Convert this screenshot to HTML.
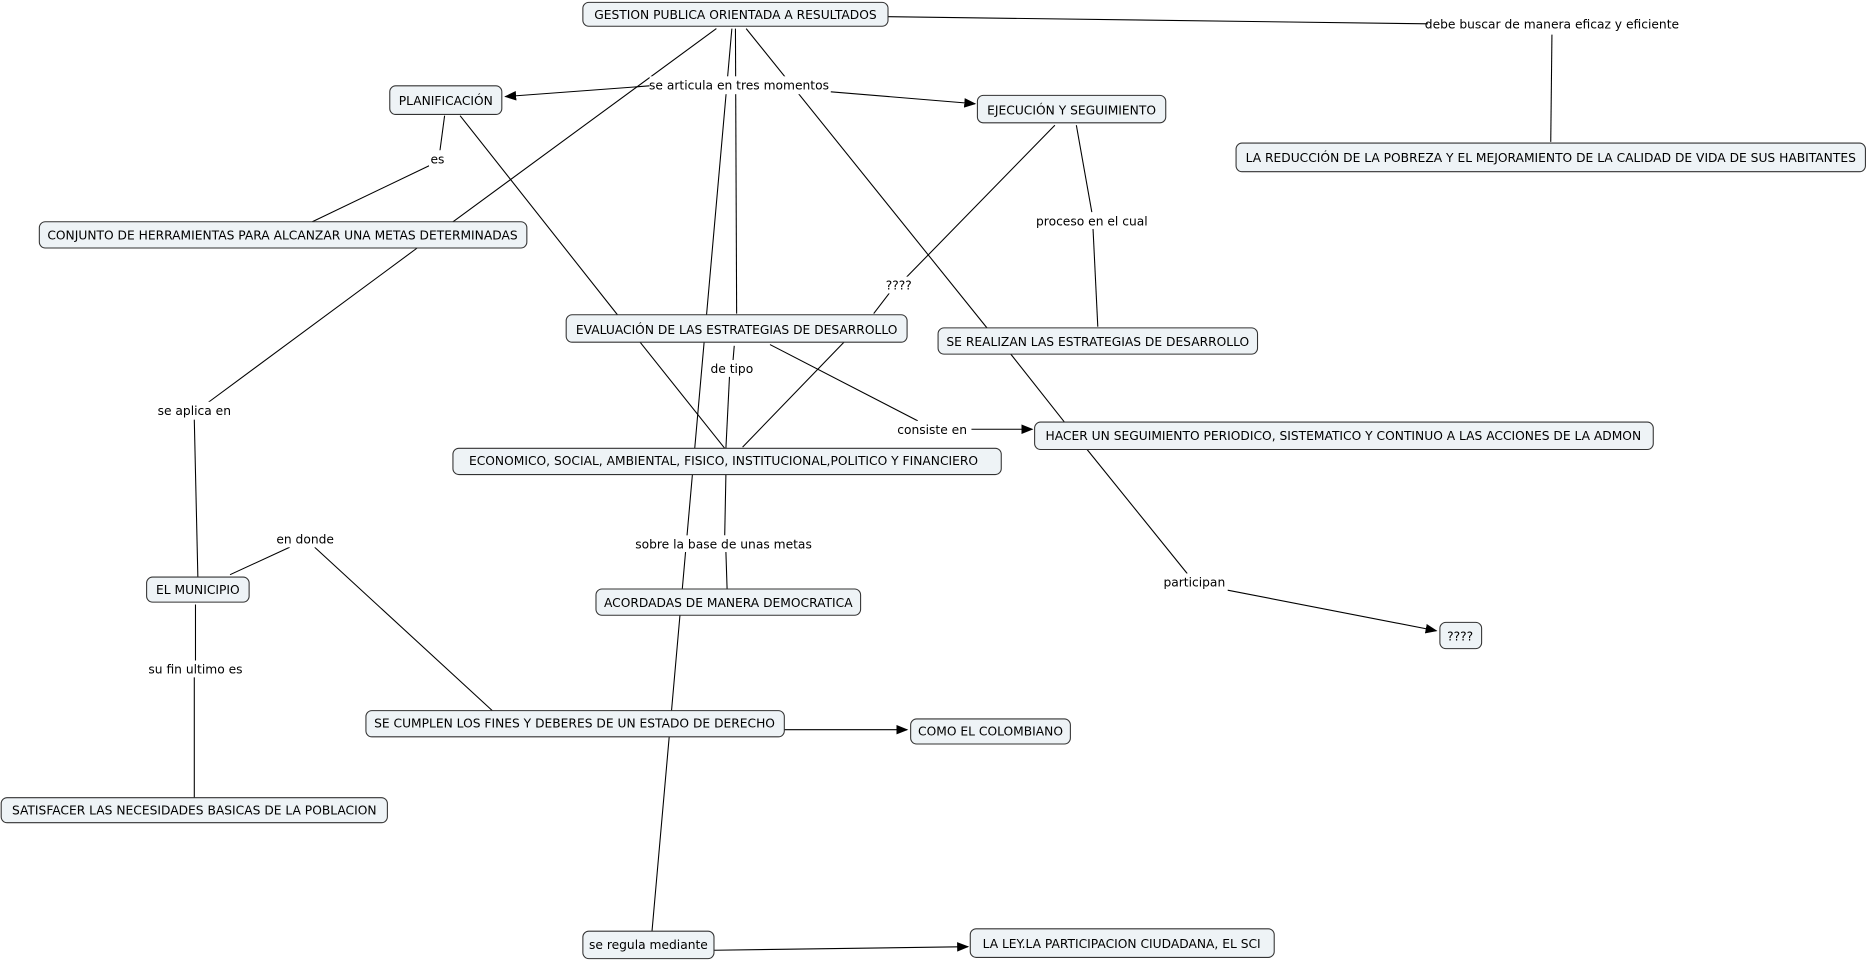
<!DOCTYPE html>
<html><head><meta charset="utf-8"><style>
html,body{margin:0;padding:0;background:#fff;}
svg{display:block;}
text{font-family:"DejaVu Sans","Liberation Sans",sans-serif;font-size:10.3px;fill:#000;}
.n{fill:#eef3f6;stroke:#333;stroke-width:0.9;}
.l{stroke:#000;stroke-width:0.9;fill:none;}
</style></head><body>
<svg width="1869" height="961" viewBox="0 0 1568 806" preserveAspectRatio="none" xmlns="http://www.w3.org/2000/svg">
<defs><marker id="a" markerWidth="10" markerHeight="8" refX="9" refY="4" orient="auto" markerUnits="userSpaceOnUse"><path d="M0,0 L10,4 L0,8 z" fill="#000"/></marker></defs>
<g class="l">
<line x1="745" y1="14" x2="1198" y2="20"/>
<line x1="1302" y1="29" x2="1301" y2="119"/>
<line x1="545" y1="72" x2="424" y2="81" marker-end="url(#a)"/>
<line x1="697" y1="77" x2="818" y2="87" marker-end="url(#a)"/>
<line x1="617" y1="24" x2="618" y2="263"/>
<line x1="614" y1="24" x2="547" y2="781"/>
<line x1="601" y1="24" x2="380" y2="186"/>
<line x1="350" y1="208" x2="174" y2="338"/>
<line x1="163" y1="352" x2="166" y2="484"/>
<line x1="626" y1="24" x2="828" y2="275"/>
<line x1="848" y1="297" x2="893" y2="354"/>
<line x1="912" y1="377" x2="996" y2="481"/>
<line x1="1030" y1="495" x2="1205" y2="529" marker-end="url(#a)"/>
<line x1="373" y1="97" x2="369" y2="127"/>
<line x1="360" y1="139" x2="262" y2="186"/>
<line x1="386" y1="97" x2="518" y2="264"/>
<line x1="885" y1="105" x2="760" y2="233"/>
<line x1="746" y1="246" x2="733" y2="263"/>
<line x1="903" y1="105" x2="916" y2="178"/>
<line x1="917" y1="192" x2="921" y2="274"/>
<line x1="537" y1="287" x2="608" y2="376"/>
<line x1="708" y1="287" x2="623" y2="375"/>
<line x1="616" y1="290" x2="615" y2="302"/>
<line x1="612" y1="316" x2="609" y2="376"/>
<line x1="646" y1="289" x2="770" y2="353"/>
<line x1="815" y1="360" x2="866" y2="360" marker-end="url(#a)"/>
<line x1="609" y1="398" x2="608" y2="449"/>
<line x1="609" y1="463" x2="610" y2="494"/>
<line x1="193" y1="482" x2="243" y2="459"/>
<line x1="264" y1="459" x2="413" y2="596"/>
<line x1="164" y1="507" x2="164" y2="554"/>
<line x1="163" y1="568" x2="163" y2="669"/>
<line x1="658" y1="612" x2="761" y2="612" marker-end="url(#a)"/>
<line x1="599" y1="797" x2="812" y2="794" marker-end="url(#a)"/>
</g>
<g fill="#fff">
<rect x="1198" y="13" width="208" height="15"/>
<rect x="545" y="64" width="150" height="15"/>
<rect x="360" y="126" width="15" height="14"/>
<rect x="870" y="178" width="92" height="14"/>
<rect x="742" y="232" width="25" height="14"/>
<rect x="596" y="302" width="36" height="14"/>
<rect x="132" y="337" width="62" height="14"/>
<rect x="753" y="353" width="60" height="14"/>
<rect x="232" y="445" width="50" height="14"/>
<rect x="534" y="449" width="147" height="14"/>
<rect x="976" y="481" width="52" height="14"/>
<rect x="124" y="554" width="80" height="14"/>
</g>
<g text-anchor="middle">
<text x="1302" y="24">debe buscar de manera eficaz y eficiente</text>
<text x="620" y="75">se articula en tres momentos</text>
<text x="367" y="137">es</text>
<text x="916" y="189">proceso en el cual</text>
<text x="754" y="243">????</text>
<text x="614" y="313">de tipo</text>
<text x="163" y="348">se aplica en</text>
<text x="782" y="364">consiste en</text>
<text x="256" y="456">en donde</text>
<text x="607" y="460">sobre la base de unas metas</text>
<text x="1002" y="492">participan</text>
<text x="164" y="565">su fin ultimo es</text>
</g>
<g>
<rect class="n" x="489" y="2" width="256" height="20" rx="5"/>
<rect class="n" x="327" y="72" width="94" height="24" rx="5"/>
<rect class="n" x="820" y="80" width="158" height="23" rx="5"/>
<rect class="n" x="1037" y="120" width="528" height="24" rx="5"/>
<rect class="n" x="33" y="186" width="409" height="22" rx="5"/>
<rect class="n" x="475" y="264" width="286" height="23" rx="5"/>
<rect class="n" x="787" y="275" width="268" height="22" rx="5"/>
<rect class="n" x="868" y="354" width="519" height="23" rx="5"/>
<rect class="n" x="380" y="376" width="460" height="22" rx="5"/>
<rect class="n" x="123" y="484" width="86" height="21" rx="5"/>
<rect class="n" x="500" y="494" width="222" height="22" rx="5"/>
<rect class="n" x="1208" y="522" width="35" height="22" rx="5"/>
<rect class="n" x="307" y="596" width="351" height="22" rx="5"/>
<rect class="n" x="764" y="603" width="134" height="21" rx="5"/>
<rect class="n" x="1" y="669" width="324" height="21" rx="5"/>
<rect class="n" x="489" y="781" width="110" height="23" rx="5"/>
<rect class="n" x="814" y="779" width="255" height="24" rx="5"/>
</g>
<g text-anchor="middle">
<text x="617" y="16">GESTION PUBLICA ORIENTADA A RESULTADOS</text>
<text x="374" y="88">PLANIFICACIÓN</text>
<text x="899" y="96">EJECUCIÓN Y SEGUIMIENTO</text>
<text x="1301" y="136">LA REDUCCIÓN DE LA POBREZA Y EL MEJORAMIENTO DE LA CALIDAD DE VIDA DE SUS HABITANTES</text>
<text x="237" y="201">CONJUNTO DE HERRAMIENTAS PARA ALCANZAR UNA METAS DETERMINADAS</text>
<text x="618" y="280">EVALUACIÓN DE LAS ESTRATEGIAS DE DESARROLLO</text>
<text x="921" y="290">SE REALIZAN LAS ESTRATEGIAS DE DESARROLLO</text>
<text x="1127" y="369">HACER UN SEGUIMIENTO PERIODICO, SISTEMATICO Y CONTINUO A LAS ACCIONES DE LA ADMON</text>
<text x="607" y="390">ECONOMICO, SOCIAL, AMBIENTAL, FISICO, INSTITUCIONAL,POLITICO Y FINANCIERO</text>
<text x="166" y="498">EL MUNICIPIO</text>
<text x="611" y="509">ACORDADAS DE MANERA DEMOCRATICA</text>
<text x="1225" y="537">????</text>
<text x="482" y="610">SE CUMPLEN LOS FINES Y DEBERES DE UN ESTADO DE DERECHO</text>
<text x="831" y="617">COMO EL COLOMBIANO</text>
<text x="163" y="683">SATISFACER LAS NECESIDADES BASICAS DE LA POBLACION</text>
<text x="544" y="796">se regula mediante</text>
<text x="941" y="795">LA LEY.LA PARTICIPACION CIUDADANA, EL SCI</text>
</g>
</svg>
</body></html>
